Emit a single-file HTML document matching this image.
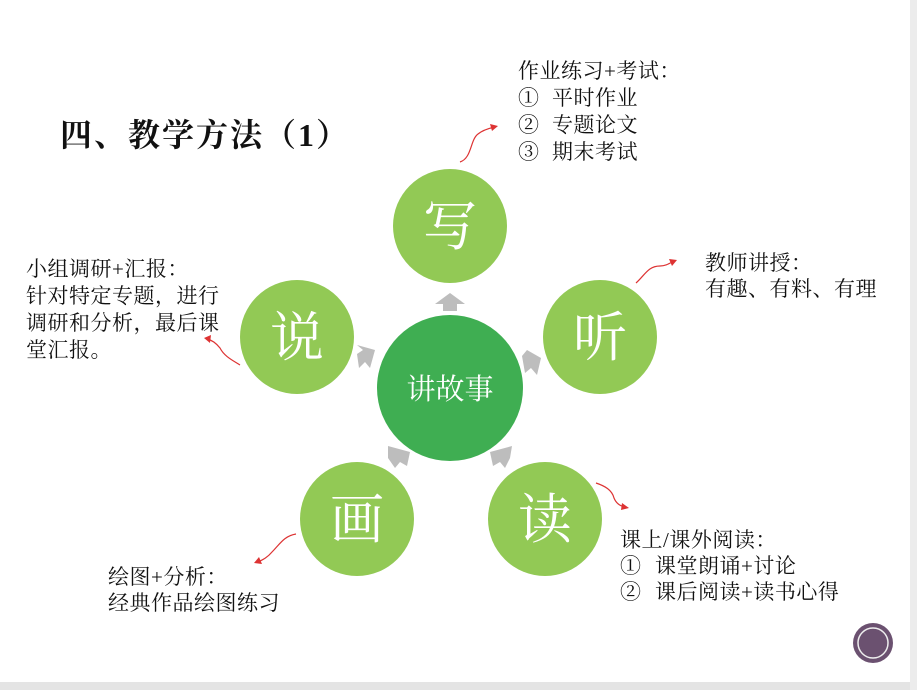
<!DOCTYPE html>
<html><head><meta charset="utf-8"><style>
body{margin:0;width:917px;height:690px;overflow:hidden;background:#fff}
svg{display:block}
text{font-family:"Liberation Serif","Noto Serif CJK SC",serif;fill:#111}
.w{fill:#fff}
</style></head><body>
<svg width="917" height="690" viewBox="0 0 917 690">
<rect x="0" y="682" width="917" height="8" fill="#e4e4e4"/>
<rect x="910" y="0" width="7" height="690" fill="#ececec"/>
<text x="60" y="146" font-size="32" font-weight="bold" letter-spacing="2">四、教学方法（1）</text>
<g fill="#bdbdbd">
<polygon points="450,293 465,304 457,304 457,311 443,311 443,304 435,304"/>
<polygon points="375,350 370,368 365,362 359,368 357,354 363,350 357,345"/>
<polygon points="527,350 541,358 537,375 531,368 525,373 522,356"/>
<polygon points="388,446 410,452 407,466 400,462 395,468 388,458"/>
<polygon points="512,446 510,458 505,468 500,462 493,466 490,452"/>
</g>
<circle cx="450" cy="388" r="73" fill="#3fae52"/>
<text x="450" y="399" font-size="29" text-anchor="middle" class="w">讲故事</text>
<g fill="#92c955">
<circle cx="450" cy="226" r="57"/>
<circle cx="600" cy="337" r="57"/>
<circle cx="297" cy="337" r="57"/>
<circle cx="357" cy="519" r="57"/>
<circle cx="545" cy="519" r="57"/>
</g>
<g font-size="54" text-anchor="middle">
<text class="w" x="450" y="245">写</text>
<text class="w" x="600" y="356">听</text>
<text class="w" x="297" y="356">说</text>
<text class="w" x="357" y="538">画</text>
<text class="w" x="545" y="538">读</text>
</g>
<g stroke="#d33" fill="none" stroke-width="1.2">
<path d="M460,162 C472,158 470,140 478,134 C483,130 490,128 495,127"/>
<path d="M636,283 C645,275 648,266 660,266 C666,266 670,263 674,261"/>
<path d="M240,365 C232,360 224,356 220,348 C216,343 212,340 207,339"/>
<path d="M596,483 C605,486 612,490 614,498 C616,503 620,506 625,507"/>
<path d="M296,534 C284,536 280,544 272,552 C267,558 262,560 258,562"/>
</g>
<g fill="#d33">
<polygon points="498,126 490,124 492,131"/>
<polygon points="677,260 669,259 672,266"/>
<polygon points="204,338 211,335 210,343"/>
<polygon points="629,508 622,503 621,510"/>
<polygon points="254,563 259,557 262,564"/>
</g>
<g font-size="21" letter-spacing="0.5">
<text x="518" y="78">作业练习+考试：</text>
<text x="518" y="105">①</text><text x="552" y="105">平时作业</text>
<text x="518" y="132">②</text><text x="552" y="132">专题论文</text>
<text x="518" y="159">③</text><text x="552" y="159">期末考试</text>
<text x="705" y="270">教师讲授：</text>
<text x="705" y="296">有趣、有料、有理</text>
<text x="26" y="276">小组调研+汇报：</text>
<text x="26" y="303">针对特定专题，进行</text>
<text x="26" y="330">调研和分析，最后课</text>
<text x="26" y="357">堂汇报。</text>
<text x="620" y="547">课上/课外阅读：</text>
<text x="620" y="573">①</text><text x="655" y="573">课堂朗诵+讨论</text>
<text x="620" y="599">②</text><text x="655" y="599">课后阅读+读书心得</text>
<text x="108" y="584">绘图+分析：</text>
<text x="108" y="610">经典作品绘图练习</text>
</g>
<circle cx="873" cy="643" r="20" fill="#6b5170"/>
<circle cx="873" cy="643" r="15" fill="none" stroke="#eee" stroke-width="1.5"/>
</svg>
</body></html>
